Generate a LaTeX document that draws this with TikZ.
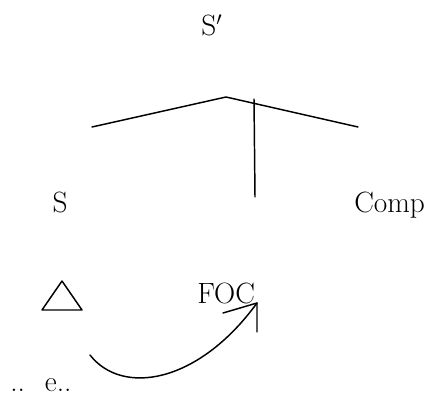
\documentclass[tikz,border=0pt]{standalone}
\begin{document}
\begin{tikzpicture}[x=0.75pt,y=-0.75pt,
  lbl/.style={inner sep=0pt,font=\fontsize{22}{26}\selectfont},
  ln/.style={line width=1.1pt,line cap=round,line join=round}]
\useasboundingbox (0,0) rectangle (438,395);
% labels
\node[lbl,anchor=base west] (sp) at (201,36) {S$'$};
\node[lbl,anchor=base] (s) at (60,212) {S};
\node[lbl,anchor=base west] (comp) at (354,212) {Comp};
\node[lbl,anchor=base west] (foc) at (197,303) {FOC};
\node[lbl,anchor=base west] (e) at (10,391) {..\hspace{15pt}e..};
% tree
\coordinate (apex) at (226,97);
\coordinate (lend) at (92,127);
\coordinate (rend) at (358,127);
\coordinate (vtop) at (254,99);
\coordinate (vbot) at (255,197);
\draw[ln] (lend) -- (apex) -- (rend);
\draw[ln] (vtop) -- (vbot);
% triangle
\coordinate (tritop) at (62,281);
\coordinate (tril) at (42,310);
\coordinate (trir) at (82,310);
\draw[ln] (tritop) -- (trir) -- (tril) -- cycle;
% movement arrow
\coordinate (astart) at (90,355);
\coordinate (atip) at (257,303);
\coordinate (barbl) at (223,313);
\coordinate (barbd) at (257,332);
\draw[ln] (astart) .. controls (122,396) and (198,384) .. (atip);
\draw[ln] (barbl) -- (atip) -- (barbd);
\end{tikzpicture}
\end{document}
